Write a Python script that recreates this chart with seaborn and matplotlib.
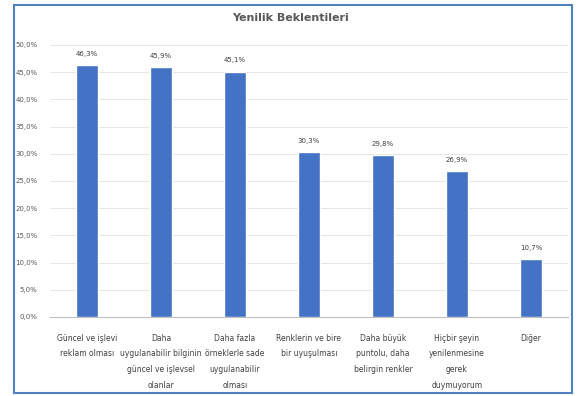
import matplotlib
matplotlib.use("Agg")
import matplotlib.pyplot as plt
import matplotlib.patches as mpatches
import seaborn as sns
import pandas as pd

title = "Yenilik Beklentileri"
categories = [
    "Güncel ve işlevi\nreklam olması",
    "Daha\nuygulanabilir bilginin\ngüncel ve işlevsel\nolanlar",
    "Daha fazla\nörneklerle sade\nuygulanabilir\nolması",
    "Renklerin ve bire\nbir uyuşulması",
    "Daha büyük\npuntolu, daha\nbelirgin renkler",
    "Hiçbir şeyin\nyenilenmesine\ngerek\nduymuyorum",
    "Diğer",
]
values = [46.3, 45.9, 45.1, 30.3, 29.8, 26.9, 10.7]
yticks = [0, 5, 10, 15, 20, 25, 30, 35, 40, 45, 50]

df = pd.DataFrame({"cat": categories, "val": values})

sns.set_theme(style="white")
plt.rcParams["font.family"] = ["DejaVu Sans"]

fig = plt.figure(figsize=(5.8, 3.96), dpi=100)
ax = fig.add_axes([50 / 580, 1 - 317 / 396, 518 / 580, (317 - 45) / 396])

sns.barplot(data=df, x="cat", y="val", color="#4472C4", width=0.3,
            saturation=1, ax=ax, zorder=3)

ax.set_ylim(0, 50)
ax.set_xlim(-0.5, len(categories) - 0.5)
ax.set_yticks(yticks)
ax.set_yticklabels([f"{t:.1f}".replace(".", ",") + "%" for t in yticks],
                   fontsize=5, color="#595959")
ax.tick_params(axis="y", length=0, pad=9)
ax.tick_params(axis="x", length=0, pad=12)
ax.set_xticks(range(len(categories)))
ax.set_xticklabels(categories, fontsize=5.5, color="#404040", linespacing=1.95)
ax.set_xlabel("")
ax.set_ylabel("")
ax.grid(axis="y", color="#E6E6E6", linewidth=0.7, zorder=0)
for s in ["top", "right", "left"]:
    ax.spines[s].set_visible(False)
ax.spines["bottom"].set_color("#BFBFBF")
ax.spines["bottom"].set_linewidth(0.8)

for i, v in enumerate(values):
    ax.text(i, v + 1.5, f"{v:.1f}".replace(".", ",") + "%", ha="center",
            va="bottom", fontsize=5, color="#404040")

fig.text(0.5, 1 - 18 / 396, title, ha="center", va="center", fontsize=8,
         color="#595959", fontweight="semibold")

border = mpatches.Rectangle((14 / 580, 1 - 393 / 396), (572 - 14) / 580,
                            (393 - 5) / 396, transform=fig.transFigure,
                            fill=False, edgecolor="#4F81BD", linewidth=1.5)
fig.patches.append(border)

fig.savefig("out.png", dpi=100)
